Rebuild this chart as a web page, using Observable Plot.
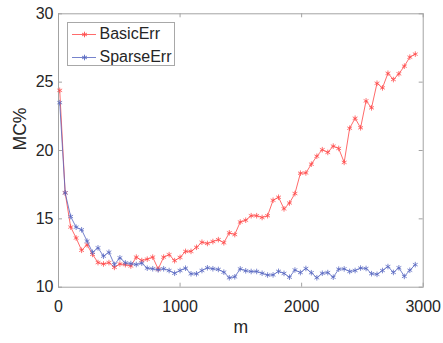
<!DOCTYPE html>
<html><head><meta charset="utf-8">
<script src="https://cdn.jsdelivr.net/npm/d3@7"></script>
<script src="https://cdn.jsdelivr.net/npm/@observablehq/plot@0.6"></script>
<style>
body{margin:0;background:#fff;}
#wrap{position:relative;width:443px;height:343px;font-family:"Liberation Sans",Arial,Helvetica,sans-serif;}
#legend{position:absolute;left:66.5px;top:22px;width:108px;height:44px;border:1px solid #a8a8a8;background:#fff;box-sizing:border-box;}
.item{position:absolute;left:0;height:20px;display:flex;align-items:center;font-size:16px;color:#262626;}
.item svg{margin-left:4px;margin-right:4px;}
</style>
</head><body>
<div id="wrap"><div id="chart"></div><div id="legend"></div></div>
<script>
const m = [10,55,100,145,190,235,280,325,370,415,460,505,550,595,640,685,730,775,820,865,910,955,1000,1045,1090,1135,1180,1225,1270,1315,1360,1405,1450,1495,1540,1585,1630,1675,1720,1765,1810,1855,1900,1945,1990,2035,2080,2125,2170,2215,2260,2305,2350,2395,2440,2485,2530,2575,2620,2665,2710,2755,2800,2845,2890,2935];
const basicErr = [24.4,16.9,14.4,13.6,12.7,13.1,12.4,11.8,11.7,11.8,11.45,11.7,11.65,11.55,12.2,11.95,12.05,12.2,11.33,12.2,12.38,11.94,12.18,12.62,12.62,12.92,13.29,13.2,13.34,13.48,13.25,13.98,13.85,14.77,14.9,15.23,15.23,15.1,15.23,16.36,16.58,15.73,16.16,16.85,18.34,18.36,19.0,19.58,20.06,19.86,20.32,20.15,19.13,21.63,22.36,21.66,23.63,23.12,24.92,24.58,25.65,25.19,25.61,26.17,26.83,27.05];
const sparseErr = [23.5,16.9,15.17,14.39,14.2,13.37,12.55,12.88,12.27,12.56,11.66,12.15,11.78,11.73,11.66,11.76,11.39,11.35,11.27,11.35,11.22,11.02,11.22,11.39,10.98,10.98,11.22,11.42,11.35,11.3,11.1,10.69,10.76,11.34,11.2,11.15,11.15,11.02,10.89,10.9,11.16,11.01,10.73,11.26,11.07,11.37,11.06,10.69,11.02,11.07,10.73,11.32,11.34,11.15,11.22,11.4,11.37,10.99,10.94,11.22,11.51,11.08,11.42,10.79,11.24,11.65];
const seriesNames = ["BasicErr","SparseErr"];
const xTicks = [0,1000,2000,3000];
const yTicks = [10,15,20,25,30];

const RED = "#ff4848", BLUE = "#5565c0", AX = "#a3a3a3", TXT = "#262626";
const W = 443, H = 343, mt = 13.3, mb = 56.3, ml = 58, mr = 20.3;
const ph = H - mt - mb, pw = W - ml - mr;
const fmt = d => String(d);

const chart = Plot.plot({
  width: W, height: H,
  marginTop: mt, marginBottom: mb, marginLeft: ml, marginRight: mr,
  style: {fontFamily: '"Liberation Sans", Arial, Helvetica, sans-serif', fontSize: "16px", color: TXT, background: "white"},
  x: {domain: [0, 3000]},
  y: {domain: [10, 30]},
  marks: [
    Plot.frame({stroke: AX, strokeWidth: 1}),
    Plot.ruleX(xTicks, {insetTop: ph - 4, stroke: AX}),
    Plot.ruleX(xTicks, {insetBottom: ph - 4, stroke: AX}),
    Plot.ruleY(yTicks, {insetRight: pw - 4, stroke: AX}),
    Plot.ruleY(yTicks, {insetLeft: pw - 4, stroke: AX}),
    Plot.axisX({ticks: xTicks, tickFormat: fmt, tickSize: 0, tickPadding: 13, label: null, fill: TXT, fontSize: 16}),
    Plot.axisY({ticks: yTicks, tickFormat: fmt, tickSize: 0, tickPadding: 5, label: null, fill: TXT, fontSize: 16}),
    Plot.text(["m"], {frameAnchor: "bottom", dy: 46, fontSize: 17.6, fill: TXT}),
    Plot.text(["MC%"], {frameAnchor: "left", rotate: -90, dx: -38, fontSize: 17.6, fill: TXT}),
    Plot.line(m, {x: m, y: basicErr, stroke: RED, strokeWidth: 0.9, strokeOpacity: 0.9}),
    Plot.dot(m, {x: m, y: basicErr, stroke: RED, symbol: "asterisk", r: 2.6, strokeWidth: 0.9, strokeOpacity: 0.85}),
    Plot.line(m, {x: m, y: sparseErr, stroke: BLUE, strokeWidth: 0.9, strokeOpacity: 0.9}),
    Plot.dot(m, {x: m, y: sparseErr, stroke: BLUE, symbol: "asterisk", r: 2.6, strokeWidth: 0.9, strokeOpacity: 0.85})
  ]
});
document.getElementById("chart").appendChild(chart);

const legend = document.getElementById("legend");
const colors = [RED, BLUE];
seriesNames.forEach((name, i) => {
  const div = document.createElement("div");
  div.className = "item";
  div.style.top = (i === 0 ? 1 : 24) + "px";
  const sw = Plot.plot({
    width: 24, height: 20, margin: 0,
    x: {domain: [0, 1], axis: null}, y: {domain: [0, 1], axis: null},
    marks: [
      Plot.ruleY([0.5], {stroke: colors[i], strokeWidth: 0.9, strokeOpacity: 0.9}),
      Plot.dot([0.5], {x: d => d, y: 0.5, stroke: colors[i], symbol: "asterisk", r: 2.6, strokeWidth: 0.9})
    ]
  });
  div.appendChild(sw);
  const span = document.createElement("span");
  span.textContent = name;
  div.appendChild(span);
  legend.appendChild(div);
});
</script>
</body></html>
